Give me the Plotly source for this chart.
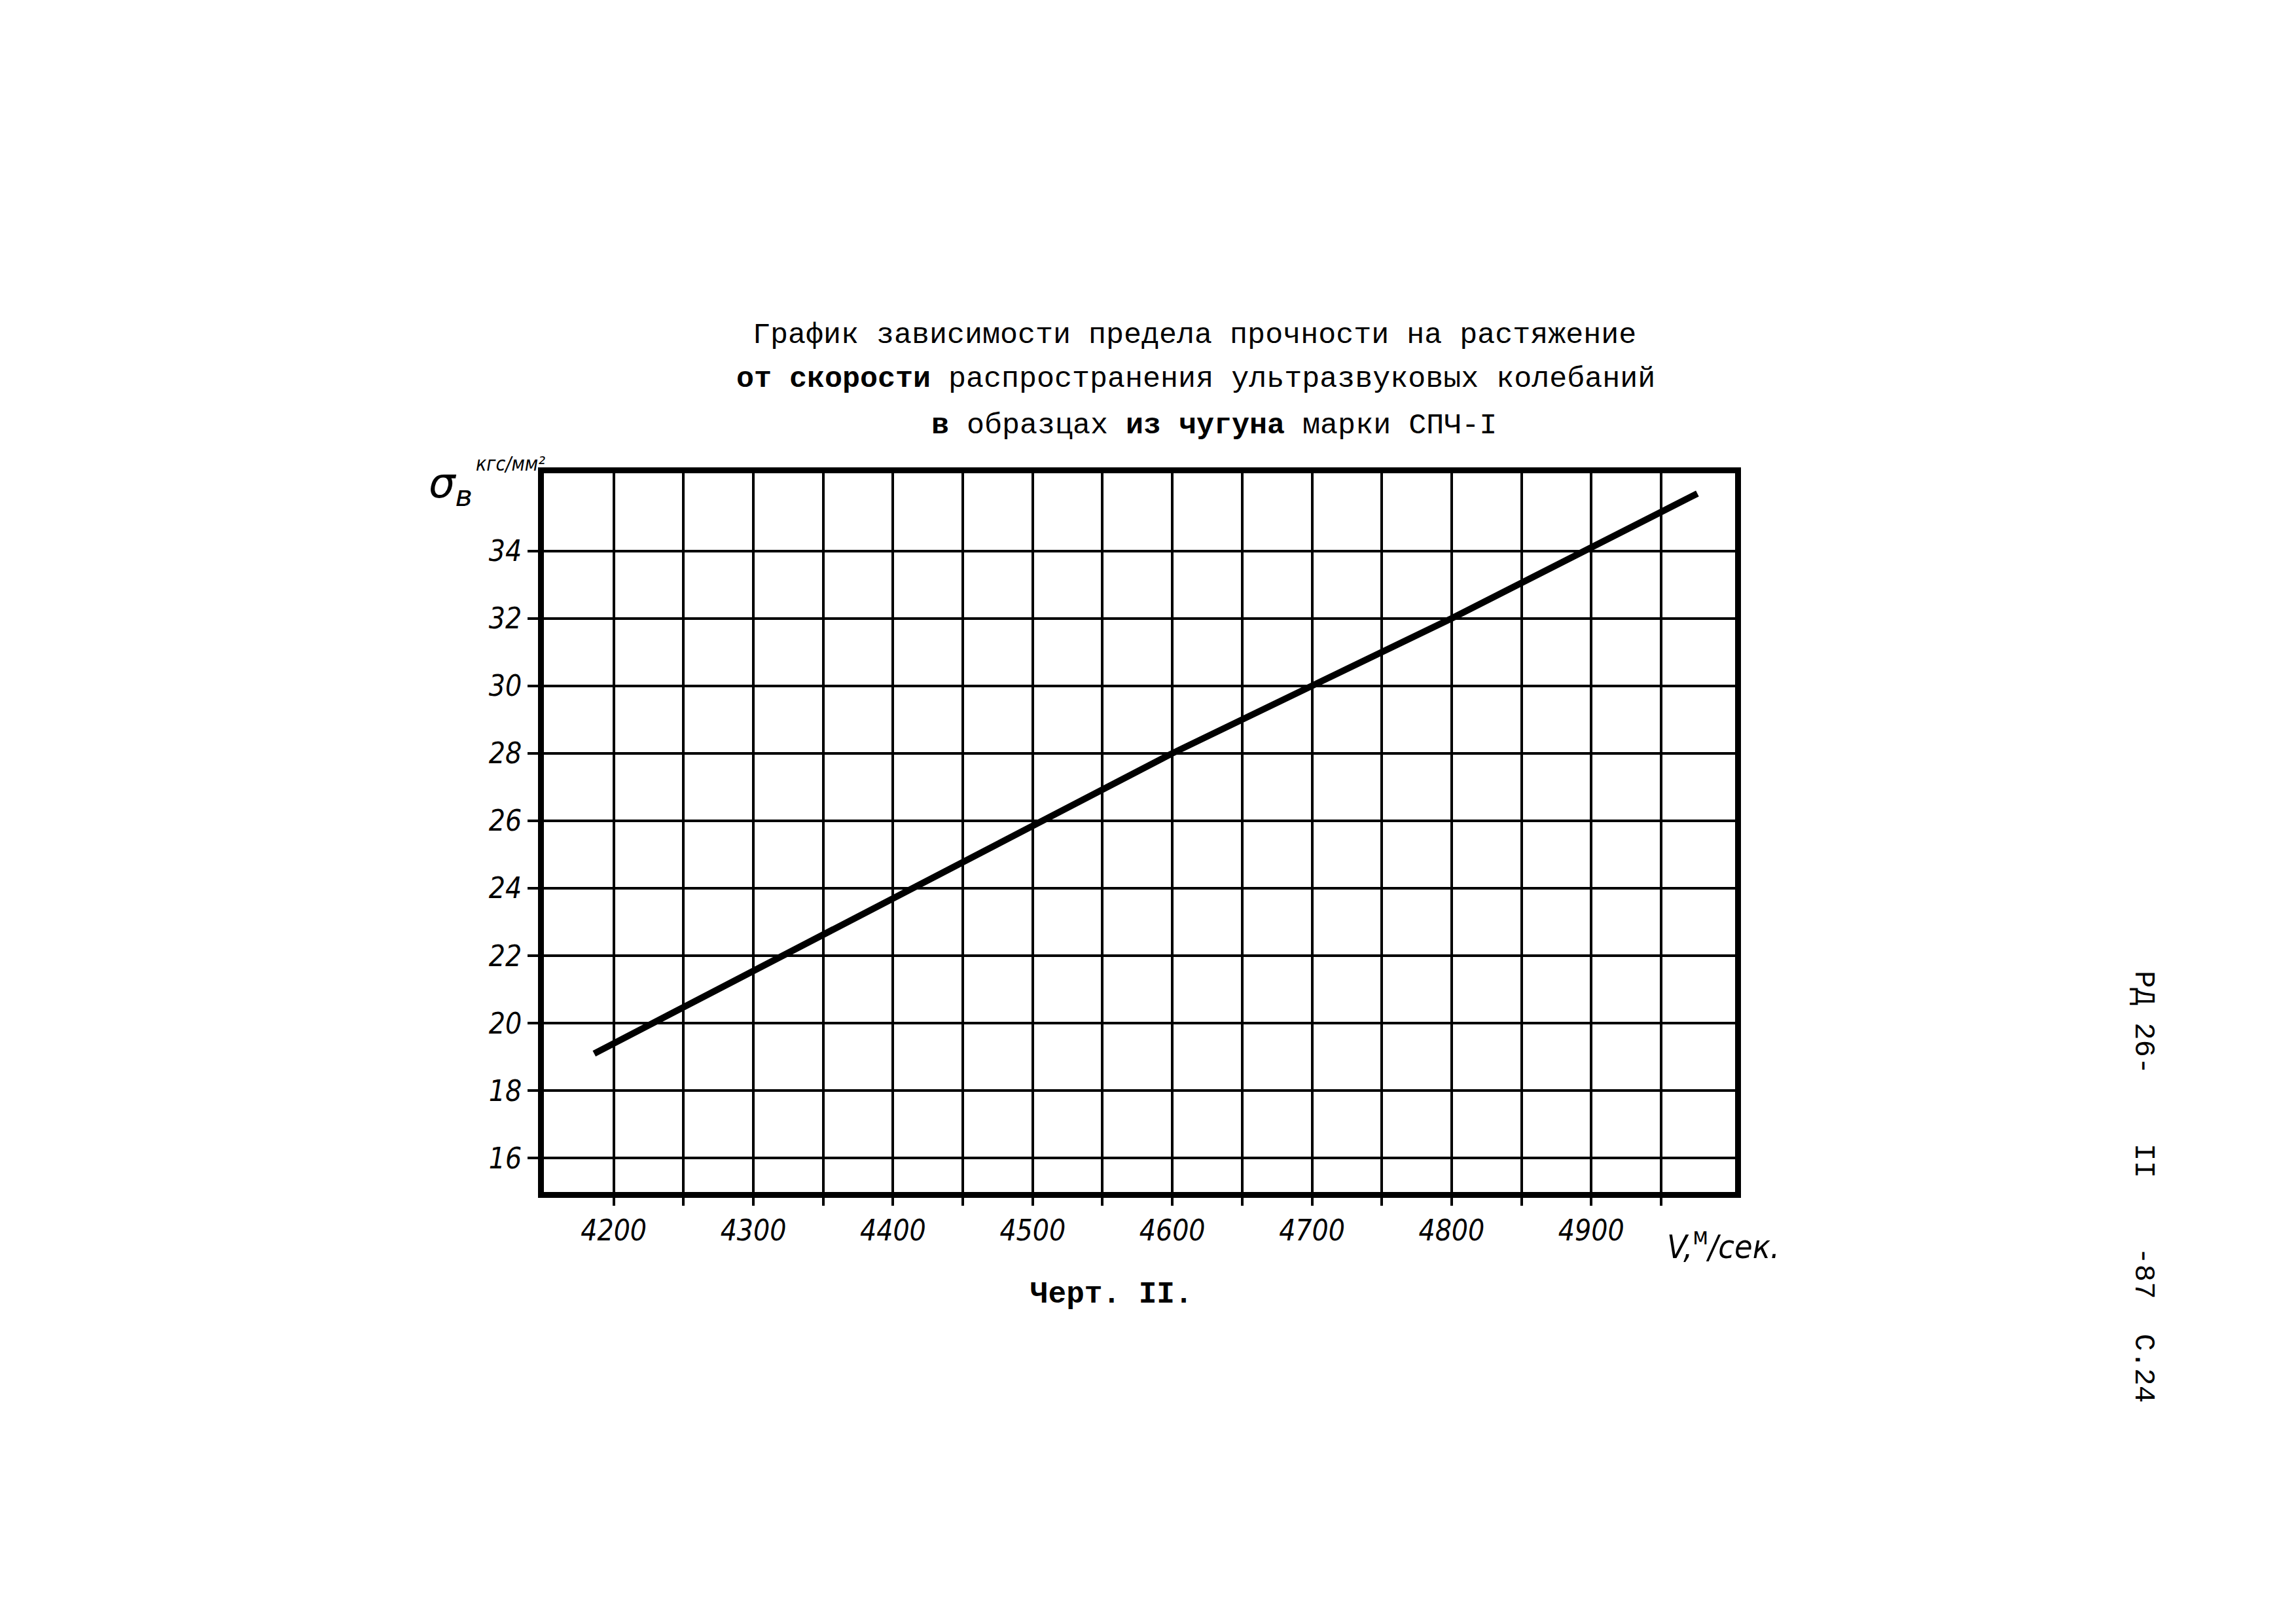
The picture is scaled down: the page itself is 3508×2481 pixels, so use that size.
import plotly.graph_objects as go

# Data
velocity = [4186, 4400, 4600, 4800, 4976]          # V, m/s
strength = [19.1, 23.7, 28.0, 32.0, 35.7]          # sigma_v, kgf/mm^2

x_tick_vals = [4200, 4300, 4400, 4500, 4600, 4700, 4800, 4900]
x_tick_text = ["4200", "4300", "4400", "4500", "4600", "4700", "4800", "4900"]
x_minor_vals = [4250, 4350, 4450, 4550, 4650, 4750, 4850, 4950]
y_tick_vals = [16, 18, 20, 22, 24, 26, 28, 30, 32, 34]
y_tick_text = ["16", "18", "20", "22", "24", "26", "28", "30", "32", "34"]

title_lines = [
    "График зависимости предела прочности на растяжение",
    "<b>от скорости</b> распространения ультразвуковых колебаний",
    "<b>в</b> образцах <b>из чугуна</b> марки СПЧ-I",
]
caption = "<b>Черт. II.</b>"
side_text = "РД 26-    II    -87  С.24"

W, H = 3508, 2481
L, R, T, B = 823, 2643, 715, 1813

def px(x):
    return (x - L) / (R - L)

def py(y):
    return (B - y) / (B - T)

fig = go.Figure()
fig.add_trace(go.Scatter(
    x=velocity, y=strength, mode="lines",
    line=dict(color="black", width=10), showlegend=False,
))

hand_family = "DejaVu Sans Condensed, Liberation Sans Narrow, Open Sans, sans-serif"
hand_font = dict(family=hand_family, size=44, color="black", style="italic")
mono = "Liberation Mono, DejaVu Sans Mono, monospace"

fig.update_layout(
    width=W, height=H, autosize=False,
    margin=dict(l=L, r=W - R, t=T, b=H - B, pad=0),
    paper_bgcolor="white", plot_bgcolor="white",
    showlegend=False,
    xaxis=dict(
        range=[4150, 5003], tickmode="array",
        tickvals=x_tick_vals, ticktext=x_tick_text,
        showgrid=True, gridcolor="black", gridwidth=4,
        showline=True, linecolor="black", linewidth=9, mirror=True,
        ticks="outside", ticklen=12, tickwidth=4, tickcolor="black",
        minor=dict(tickmode="array", tickvals=x_minor_vals, showgrid=True,
                   gridcolor="black", gridwidth=4, ticks="outside",
                   ticklen=12, tickwidth=4, tickcolor="black"),
        tickfont=hand_font, zeroline=False,
    ),
    yaxis=dict(
        range=[15.0, 36.3], tickmode="array",
        tickvals=y_tick_vals, ticktext=y_tick_text,
        showgrid=True, gridcolor="black", gridwidth=4,
        showline=True, linecolor="black", linewidth=9, mirror=True,
        ticks="outside", ticklen=16, tickwidth=4, tickcolor="black",
        tickfont=hand_font, zeroline=False,
    ),
)

anns = []
for txt, cx, cy in zip(title_lines, [1817, 1819, 1847], [504, 571, 643]):
    anns.append(dict(text=txt, x=px(cx), y=py(cy), xref="paper", yref="paper",
                     showarrow=False, xanchor="center", yanchor="middle",
                     font=dict(family=mono, size=45, color="black")))
anns.append(dict(text=caption, x=px(1690), y=py(1970), xref="paper", yref="paper",
                 showarrow=False, xanchor="center", yanchor="middle",
                 font=dict(family=mono, size=46, color="black")))
anns.append(dict(text=side_text, x=px(3267), y=py(1805), xref="paper", yref="paper",
                 showarrow=False, xanchor="center", yanchor="middle", textangle=90,
                 font=dict(family=mono, size=44, color="black")))
anns.append(dict(text="<i>V,</i><sup>м</sup><i>/сек.</i>", x=px(2625), y=py(1893),
                 xref="paper", yref="paper", showarrow=False,
                 xanchor="center", yanchor="middle",
                 font=dict(family=hand_family, size=50, color="black")))
anns.append(dict(text="σ<sub>в</sub>", x=px(680), y=py(735), xref="paper", yref="paper",
                 showarrow=False, xanchor="center", yanchor="middle",
                 font=dict(family="DejaVu Sans, sans-serif", size=64, color="black",
                           style="italic")))
anns.append(dict(text="кгс/мм²", x=px(772), y=py(700), xref="paper", yref="paper",
                 showarrow=False, xanchor="center", yanchor="middle",
                 font=dict(family=hand_family, size=30, color="black", style="italic")))
fig.update_layout(annotations=anns)

fig.write_html("out.html")
